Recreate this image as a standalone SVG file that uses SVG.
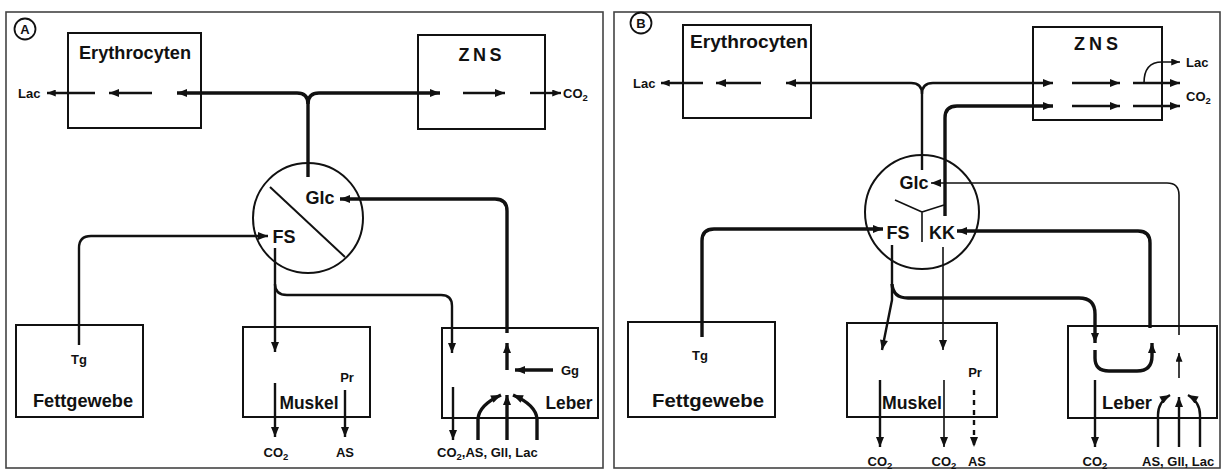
<svg xmlns="http://www.w3.org/2000/svg" width="1225" height="472" viewBox="0 0 1225 472">
<defs>
<marker id="ah" viewBox="0 0 10 8" refX="10" refY="4" markerWidth="11" markerHeight="8" markerUnits="userSpaceOnUse" orient="auto"><path d="M0,0 L10,4 L0,8 z" fill="#111"/></marker>
<marker id="as" viewBox="0 0 10 8" refX="10" refY="4" markerWidth="9" markerHeight="7" markerUnits="userSpaceOnUse" orient="auto"><path d="M0,0 L10,4 L0,8 z" fill="#111"/></marker>
</defs>
<style>
.frame{fill:#fff;stroke:#444;stroke-width:1.6}
.box{fill:none;stroke:#111;stroke-width:2}
.c{fill:none;stroke:#111;stroke-linecap:butt;stroke-linejoin:round}
.w1{stroke-width:1.6}
.w2{stroke-width:2.4}
.w3{stroke-width:3.4}
.ar{marker-end:url(#ah)}
.sm{marker-end:url(#as)}
text{font-family:"Liberation Sans",Arial,sans-serif;font-weight:bold;fill:#111}
.big{font-size:18px}
.mid{font-size:18px}
.lab{font-size:13px}
.sub{font-size:9.5px}
.ctr{text-anchor:middle}
</style>
<rect width="1225" height="472" fill="#fff"/>
<rect class="frame" x="6" y="12" width="597" height="456"/>
<rect class="frame" x="614" y="12" width="606" height="456"/>

<!-- Panel A -->
<g id="labelA"><circle cx="25" cy="29" r="10.5" fill="none" stroke="#111" stroke-width="1.8"/><text class="lab ctr" x="25" y="33.5">A</text></g>
<g id="A-erythrocyten"><rect class="box" x="68" y="33" width="133" height="95"/><text class="big ctr" x="135" y="59" textLength="112" lengthAdjust="spacingAndGlyphs">Erythrocyten</text></g>
<g id="A-zns"><rect class="box" x="418" y="35" width="127" height="94"/><text class="big ctr" x="480" y="61" textLength="43" lengthAdjust="spacing">ZNS</text></g>
<g id="A-pool"><circle cx="308" cy="218" r="55" fill="none" stroke="#111" stroke-width="2"/><line x1="270" y1="187" x2="345" y2="257" stroke="#111" stroke-width="2"/><text class="mid ctr" x="320" y="204">Glc</text><text class="mid ctr" x="284" y="243">FS</text></g>
<g id="A-fettgewebe"><rect class="box" x="16" y="325" width="127" height="92"/><text class="lab ctr" x="79" y="364">Tg</text><text class="big ctr" x="83" y="407" textLength="100" lengthAdjust="spacingAndGlyphs">Fettgewebe</text></g>
<g id="A-muskel"><rect class="box" x="243" y="327" width="127" height="90"/><text class="big ctr" x="309" y="409" textLength="59" lengthAdjust="spacingAndGlyphs">Muskel</text><text class="lab ctr" x="347" y="382">Pr</text></g>
<g id="A-leber"><rect class="box" x="442" y="328" width="156" height="90"/><text class="big ctr" x="569" y="409" textLength="47" lengthAdjust="spacingAndGlyphs">Leber</text><text class="lab" x="561" y="375">Gg</text></g>
<g id="A-labels">
<text class="lab" x="18" y="98">Lac</text>
<text class="lab" x="563" y="98">CO<tspan class="sub" dy="3">2</tspan></text>
<text class="lab ctr" x="276" y="457">CO<tspan class="sub" dy="3">2</tspan></text>
<text class="lab ctr" x="345" y="457">AS</text>
<text class="lab" x="437" y="457">CO<tspan class="sub" dy="3">2</tspan><tspan dy="-3">,AS, Gll, Lac</tspan></text>
</g>
<g id="A-connectors">
<path class="c w3 ar" d="M308,177 V104 Q308,93 297,93 H177"/>
<path class="c w3 ar" d="M308,104 Q308,93 319,93 H440"/>
<path class="c w2 ar" d="M152,93 H109"/>
<path class="c w2 sm" d="M95,93 H47"/>
<path class="c w2 ar" d="M463,93 H505"/>
<path class="c w2 sm" d="M530,93 H561"/>
<path class="c w3 ar" d="M507,333 V211 Q507,199 495,199 H340"/>
<path class="c w3 ar" d="M507,370 V343"/>
<path class="c w3 ar" d="M553,370 H515"/>
<path class="c w2 ar" d="M79,345 V248 Q79,236 91,236 H268"/>
<path class="c w2 ar" d="M275,248 V352"/>
<path class="c w2 ar" d="M275,284 Q275,295 287,295 H441 Q452,295 452,306 V353"/>
<path class="c w2 ar" d="M275,383 V437"/>
<path class="c w2 ar" d="M345,390 V437"/>
<path class="c w2 ar" d="M453,387 V440"/>
<path class="c w3 ar" d="M507,440 V395"/>
<path class="c w3 ar" d="M478,440 V419 Q479,405 501,395"/>
<path class="c w3 ar" d="M537,440 V419 Q536,405 513,395"/>
</g>

<!-- Panel B -->
<g id="labelB"><circle cx="641" cy="23" r="10.5" fill="none" stroke="#111" stroke-width="1.8"/><text class="lab ctr" x="641" y="27.5">B</text></g>
<g id="B-erythrocyten"><rect class="box" x="683" y="25" width="128" height="93"/><text class="big ctr" x="749" y="48" textLength="118" lengthAdjust="spacingAndGlyphs">Erythrocyten</text></g>
<g id="B-zns"><rect class="box" x="1033" y="27" width="129" height="93"/><text class="big ctr" x="1096" y="50" textLength="44" lengthAdjust="spacing">ZNS</text></g>
<g id="B-pool"><circle cx="922" cy="212" r="57" fill="none" stroke="#111" stroke-width="2"/><path class="c w1" d="M895,200 L922,212 L944,205 M922,212 V242"/><text class="mid ctr" x="914" y="189">Glc</text><text class="mid ctr" x="898" y="239">FS</text><text class="mid ctr" x="942" y="239">KK</text></g>
<g id="B-fettgewebe"><rect class="box" x="628" y="322" width="147" height="95"/><text class="lab ctr" x="700" y="360">Tg</text><text class="big ctr" x="708" y="407" textLength="112" lengthAdjust="spacingAndGlyphs">Fettgewebe</text></g>
<g id="B-muskel"><rect class="box" x="847" y="323" width="150" height="94"/><text class="big ctr" x="912" y="409" textLength="60" lengthAdjust="spacingAndGlyphs">Muskel</text><text class="lab ctr" x="975" y="377">Pr</text></g>
<g id="B-leber"><rect class="box" x="1068" y="326" width="149" height="92"/><text class="big ctr" x="1127" y="409" textLength="50" lengthAdjust="spacingAndGlyphs">Leber</text></g>
<g id="B-labels">
<text class="lab" x="633" y="88">Lac</text>
<text class="lab" x="1186" y="67">Lac</text>
<text class="lab" x="1186" y="101">CO<tspan class="sub" dy="3">2</tspan></text>
<text class="lab ctr" x="880" y="466">CO<tspan class="sub" dy="3">2</tspan></text>
<text class="lab ctr" x="944" y="466">CO<tspan class="sub" dy="3">2</tspan></text>
<text class="lab ctr" x="977" y="466">AS</text>
<text class="lab ctr" x="1095" y="466">CO<tspan class="sub" dy="3">2</tspan></text>
<text class="lab" x="1142" y="466">AS, Gll, Lac</text>
</g>
<g id="B-connectors">
<path class="c w2 ar" d="M922,170 V94 Q922,83 911,83 H786"/>
<path class="c w2 ar" d="M922,94 Q922,83 933,83 H1053"/>
<path class="c w2 ar" d="M761,83 H716"/>
<path class="c w2 sm" d="M703,83 H661"/>
<path class="c w3 ar" d="M945,216 V118 Q945,106 957,106 H1053"/>
<path class="c w2 ar" d="M1072,83 H1120"/>
<path class="c w2 ar" d="M1072,106 H1120"/>
<path class="c w2 ar" d="M1133,83 H1180"/>
<path class="c w2 ar" d="M1133,106 H1180"/>
<path class="c w1 sm" d="M1144,83 Q1144,62 1162,62 H1180"/>
<path class="c w1 ar" d="M1179,335 V195 Q1179,183 1167,183 H931"/>
<path class="c w3 ar" d="M1150,328 V243 Q1150,231 1138,231 H957"/>
<path class="c w3 ar" d="M702,337 V241 Q702,229 714,229 H883"/>
<path class="c w2 ar" d="M892,245 V300 L882,350"/>
<path class="c w3 ar" d="M892,284 Q893,298 908,298 H1079 Q1095,298 1095,314 V343"/>
<path class="c w1 ar" d="M943,247 V350"/>
<path class="c w3 ar" d="M1095,350 V358 Q1095,371 1109,371 H1137 Q1152,371 1152,356 V343"/>
<path class="c w1 sm" d="M1179,378 V353"/>
<path class="c w2 ar" d="M880,380 V447"/>
<path class="c w1 ar" d="M944,380 V447"/>
<path class="c w2 ar" d="M974,390 V447" stroke-dasharray="5 5"/>
<path class="c w2 ar" d="M1095,380 V447"/>
<path class="c w2 ar" d="M1179,447 V397"/>
<path class="c w2 ar" d="M1158,447 V415 Q1158,402 1170,395"/>
<path class="c w2 ar" d="M1200,447 V415 Q1200,402 1188,395"/>
</g>
</svg>
